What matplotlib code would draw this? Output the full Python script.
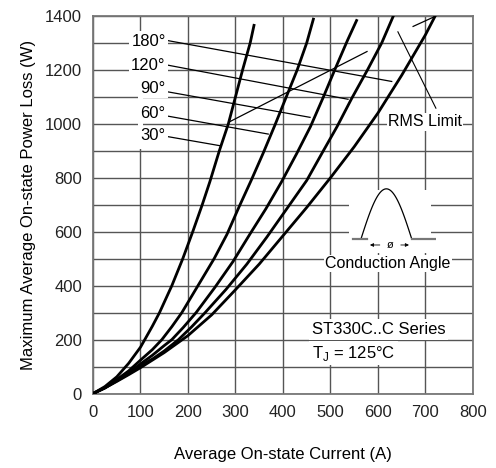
import numpy as np
import matplotlib
matplotlib.use("Agg")
import matplotlib.pyplot as plt

plt.rcParams['font.family'] = ['Liberation Sans', 'DejaVu Sans']

# curves: (current A, power W)
i_30 = [0, 25, 50, 75, 100, 109, 125, 140, 166, 189, 210, 230, 246, 266, 285, 300, 315, 331, 339]
p_30 = [0, 26, 62, 112, 172, 200, 250, 300, 400, 500, 600, 700, 785, 900, 1000, 1100, 1200, 1300, 1365]

i_60 = [0, 25, 50, 75, 100, 125, 145, 166, 187, 221, 255, 282, 307, 333, 358, 383, 407, 430, 450, 464]
p_60 = [0, 22, 52, 84, 124, 163, 200, 248, 300, 400, 500, 590, 690, 790, 890, 995, 1100, 1200, 1300, 1388]

i_90 = [0, 25, 50, 75, 100, 125, 150, 166, 190, 217, 256, 295, 330, 364, 397, 429, 458, 484, 509, 536, 555]
p_90 = [0, 21, 49, 77, 110, 142, 178, 200, 245, 300, 392, 490, 590, 685, 785, 890, 990, 1095, 1200, 1310, 1383]

i_120 = [0, 25, 50, 75, 100, 125, 150, 180, 208, 236, 280, 324, 366, 406, 450, 485, 514, 545, 578, 608, 632]
p_120 = [0, 21, 47, 73, 104, 128, 158, 200, 248, 300, 386, 480, 580, 680, 790, 900, 990, 1095, 1200, 1300, 1398]

i_180 = [0, 25, 50, 75, 100, 150, 200, 250, 300, 350, 400, 450, 500, 550, 600, 650, 700, 720]
p_180 = [0, 21, 45, 70, 96, 152, 215, 292, 385, 480, 585, 690, 800, 915, 1040, 1180, 1330, 1398]

angle_labels = ["180°", "120°", "90°", "60°", "30°"]
label_y = [1305, 1215, 1130, 1040, 955]
leader_start = [(156, 1309), (156, 1218), (156, 1119), (156, 1029), (156, 953)]
leader_end = [(629, 1157), (537, 1091), (457, 1024), (369, 962), (267, 919)]

# RMS limit line (two visible pieces)
rms_i1 = [288, 577]
rms_p1 = [1008, 1268]
rms_i2 = [674, 720]
rms_p2 = [1361, 1398]

fig = plt.figure(figsize=(4.96, 4.68), dpi=100)
ax = fig.add_axes([0.1875, 0.159, 0.766, 0.807])

ax.set_xlim(0, 800)
ax.set_ylim(0, 1400)
ax.set_xticks(np.arange(0, 801, 100))
ax.set_yticks(np.arange(0, 1401, 200))
ax.set_yticks(np.arange(0, 1401, 100), minor=True)
ax.grid(True, which='both', color='#555555', lw=1.0)
ax.set_axisbelow(True)
ax.tick_params(which='both', length=0, labelsize=12, pad=8, colors='#222222')
for s in ax.spines.values():
    s.set_color('#777777')
    s.set_linewidth(1.3)

for xs, ys in [(i_30, p_30), (i_60, p_60), (i_90, p_90), (i_120, p_120), (i_180, p_180)]:
    ax.plot(xs, ys, color='black', lw=2.0, solid_joinstyle='round', zorder=3)

# blank strip behind the stacked angle labels
ax.add_patch(plt.Rectangle((94, 905), 12, 440, facecolor='white', edgecolor='none', zorder=1))

# angle labels with leaders
for lab, ly, (x0, y0), (x1, y1) in zip(angle_labels, label_y, leader_start, leader_end):
    ax.plot([x0, x1], [y0, y1], color='black', lw=0.9, zorder=4)
    ax.text(153, ly, lab, ha='right', va='center', fontsize=12,
            bbox=dict(facecolor='white', edgecolor='none', pad=1.5), zorder=5)

ax.plot(rms_i1, rms_p1, color='black', lw=0.9, zorder=4)
ax.plot(rms_i2, rms_p2, color='black', lw=0.9, zorder=4)
ax.plot([642, 722], [1341, 1058], color='black', lw=0.8, zorder=4)
ax.text(699, 1008, "RMS Limit", ha='center', va='center', fontsize=11.5,
        bbox=dict(facecolor='white', edgecolor='none', pad=1), zorder=5)

# conduction angle icon
ax.add_patch(plt.Rectangle((540, 520), 172, 235, facecolor='white', edgecolor='none', zorder=2))
ins = fig.add_axes([0.7056, 0.4658, 0.173, 0.143])
ins.set_xlim(0, 1)
ins.set_ylim(0, 1)
ins.axis('off')
th = np.linspace(0, np.pi, 60)
sx = 0.128 + 0.592 * th / np.pi
sy = 0.164 + 0.75 * np.sin(th)
ins.plot(sx, sy, color='black', lw=0.9)
ins.plot([0.035, 0.2], [0.164, 0.164], color='#777777', lw=1.6)
ins.plot([0.72, 1.0], [0.164, 0.164], color='#777777', lw=1.6)
ins.annotate('', xy=(0.2, 0.075), xytext=(0.38, 0.075),
             arrowprops=dict(arrowstyle='-|>', lw=0.6, color='black', mutation_scale=5))
ins.annotate('', xy=(0.72, 0.075), xytext=(0.56, 0.075),
             arrowprops=dict(arrowstyle='-|>', lw=0.6, color='black', mutation_scale=5))
ins.text(0.47, 0.075, "ø", ha='center', va='center', fontsize=8)

ax.text(621, 482, "Conduction Angle", ha='center', va='center', fontsize=11.5,
        bbox=dict(facecolor='white', edgecolor='none', pad=1), zorder=5)
ax.text(461, 238, "ST330C..C Series", ha='left', va='center', fontsize=12,
        bbox=dict(facecolor='white', edgecolor='none', pad=2), zorder=5)
ax.text(461, 150, "T$_\\mathregular{J}$ = 125°C", ha='left', va='center', fontsize=12,
        bbox=dict(facecolor='white', edgecolor='none', pad=2), zorder=5)

ax.set_xlabel("Average On-state Current (A)", fontsize=12, labelpad=20)
ax.set_ylabel("Maximum Average On-state Power Loss (W)", fontsize=12, labelpad=6)

fig.savefig("out.png", dpi=100)
